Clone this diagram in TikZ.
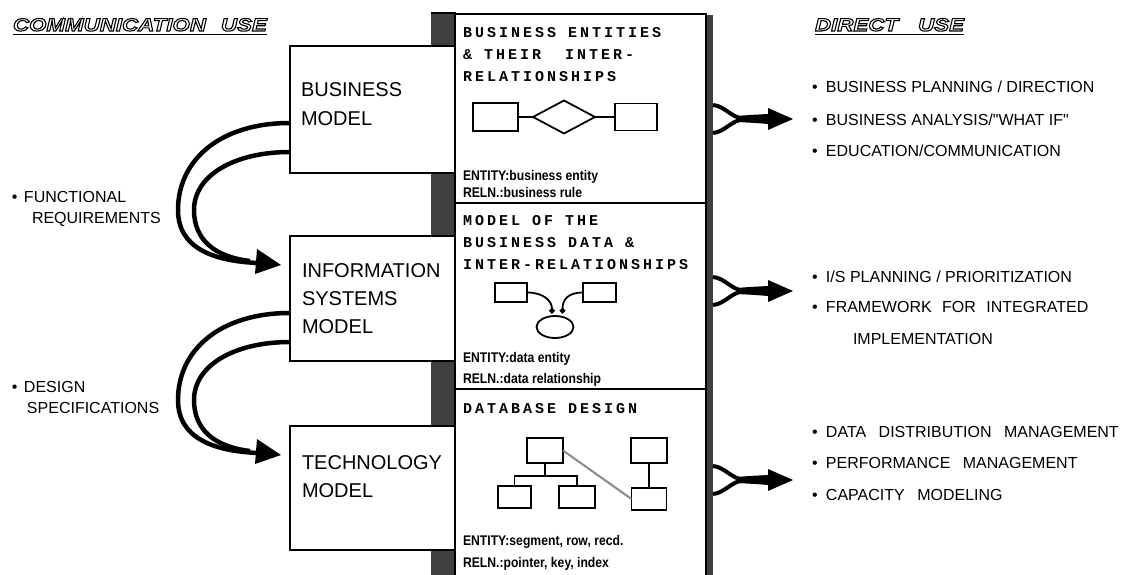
\documentclass[tikz,border=0pt]{standalone}
\usepackage{fontspec}
\setmainfont{Liberation Sans}[Ligatures=TeXOff]
\newfontfamily\monofont[LetterSpace=20]{Liberation Mono}
\newfontfamily\keyfont[FakeStretch=0.87]{Liberation Sans}
\newfontfamily\headfont[FakeStretch=1.24]{Liberation Sans}
\usetikzlibrary{calc,shapes.geometric,arrows.meta}
\definecolor{bargray}{HTML}{404040}
\definecolor{linkgray}{HTML}{8A8A8A}
% hollow lettering: glyphs stroked, not filled
\newcommand\hollow[1]{\special{pdf:literal direct 1 Tr 1.1 w}#1\special{pdf:literal direct 0 Tr}}
% one full character cell of the spaced typewriter captions
\newcommand\msp{\hspace{12pt}}

\tikzset{
  every node/.style={inner sep=0pt, outer sep=0pt},
  box/.style={draw, line width=2pt, fill=white, anchor=north west},
  modeltext/.style={anchor=base west, font=\fontsize{20}{24}\selectfont},
  listtext/.style={anchor=base west, font=\fontsize{16}{19}\selectfont},
  monotext/.style={anchor=base west, font=\monofont\bfseries\fontsize{15}{17}\selectfont},
  keytext/.style={anchor=base west, font=\keyfont\bfseries\fontsize{14}{17}\selectfont},
  headtext/.style={anchor=base west, font=\headfont\bfseries\itshape\fontsize{18}{21}\selectfont},
  ent/.style={draw, line width=1.8pt, fill=white, minimum height=#1},
  ent/.default=22pt,
  link/.style={line width=1.8pt},
  flow/.style={line width=4.5pt},
  prong/.style={line width=4pt},
}

\begin{document}
\begin{tikzpicture}[x=1pt,y=-1pt]
\useasboundingbox (0,0) rectangle (1129,575);

% dark spine behind the three models and its shadow on the right
\fill[bargray] (431,13) rectangle (456,580);
\draw[line width=2pt] (431,13) -- (456,13);
\fill[bargray] (705,15) rectangle (713,580);

% the three description panels
\node[box, minimum width=251pt, minimum height=189pt] (p1) at (455,14) {};
\node[box, minimum width=251pt, minimum height=186pt] (p2) at (455,203) {};
\node[box, minimum width=251pt, minimum height=200pt] (p3) at (455,389) {};

% the three models
\node[box, minimum width=165pt, minimum height=127pt] (bm) at (290,46) {};
\node[box, minimum width=165pt, minimum height=125pt] (ism) at (290,236) {};
\node[box, minimum width=165pt, minimum height=124pt] (tm) at (290,426) {};

\node[modeltext] (bm1) at (301,97) {BUSINESS};
\node[modeltext] (bm2) at (301,125) {MODEL};
\node[modeltext] (ism1) at (302,277) {INFORMATION};
\node[modeltext] (ism2) at (302,305) {SYSTEMS};
\node[modeltext] (ism3) at (302,333) {MODEL};
\node[modeltext] (tm1) at (302,469) {TECHNOLOGY};
\node[modeltext] (tm2) at (302,497) {MODEL};

% headings
\node[headtext] (hcomm) at (13,31) {\hollow{COMMUNICATION\hspace{15pt}USE}};
\draw[line width=1.8pt] ($(hcomm.base west)+(0,3.5)$) -- ($(hcomm.base east)+(0,3.5)$);
\node[headtext] (hdir) at (815,31) {\hollow{DIRECT\hspace{20pt}USE}};
\draw[line width=1.8pt] ($(hdir.base west)+(0,3.5)$) -- ($(hdir.base east)+(0,3.5)$);

% panel 1: business entities
\node[monotext] (t1a) at (463,38) {BUSINESS\msp ENTITIES};
\node[monotext] (t1b) at (463,60) {\&\msp THEIR\msp\msp INTER-};
\node[monotext] (t1c) at (463,82) {RELATIONSHIPS};
\node[ent=28pt, minimum width=45pt] (e1) at (495.5,117) {};
\node[draw, line width=1.8pt, fill=white, diamond, minimum width=62pt, minimum height=33pt] (r1) at (564,117) {};
\node[ent=27pt, minimum width=42pt] (e2) at (636,117) {};
\draw[link] (e1) -- (r1);
\draw[link] (r1) -- (e2);
\node[keytext] (k1a) at (463,180) {ENTITY:business entity};
\node[keytext] (k1b) at (463,197) {RELN.:business rule};

% panel 2: business data
\node[monotext] (t2a) at (463,225) {MODEL\msp OF\msp THE};
\node[monotext] (t2b) at (463,247) {BUSINESS\msp DATA\msp\&};
\node[monotext] (t2c) at (463,269) {INTER-RELATIONSHIPS};
\node[ent=19pt, minimum width=32pt] (e3) at (511,292.5) {};
\node[ent=19pt, minimum width=33pt] (e4) at (599.5,292.5) {};
\node[draw, line width=1.8pt, ellipse, minimum width=37pt, minimum height=22pt] (r2) at (555,327) {};
\coordinate (d1) at (552,313.5);
\coordinate (d2) at (562.5,313.5);
\draw[link, -{Circle[length=5.5pt]}] (e3.east) .. controls +(16,0) and +(0,-13) .. (d1);
\draw[link, -{Circle[length=5.5pt]}] (e4.west) .. controls +(-16,0) and +(0,-13) .. (d2);
\node[keytext] (k2a) at (463,362) {ENTITY:data entity};
\node[keytext] (k2b) at (463,383) {RELN.:data relationship};

% panel 3: database design
\node[monotext] (t3a) at (463,413) {DATABASE\msp DESIGN};
\node[ent=25pt, minimum width=36pt] (s0) at (545,450.5) {};
\node[ent=22pt, minimum width=33pt] (s1) at (514.5,497) {};
\node[ent=22pt, minimum width=36pt] (s2) at (577,497) {};
\node[ent=25pt, minimum width=36pt] (s3) at (649,450.5) {};
\node[ent=22pt, minimum width=35pt] (s4) at (649,499) {};
\draw[link] (s0.south) -- ++(0,13) -| (s1.north);
\draw[link] (s0.south) -- ++(0,13) -| (s2.north);
\draw[link] (s3) -- (s4);
\draw[line width=2pt, linkgray] (s0.east) -- (s4.west);
\node[keytext] (k3a) at (463,545) {ENTITY:segment, row, recd.};
\node[keytext] (k3b) at (463,567) {RELN.:pointer, key, index};

% communication use: requirements flowing down the models
\node[listtext] (f1) at (12,202) {\makebox[12pt][l]{•}FUNCTIONAL};
\node[listtext] (f2) at (32,223) {REQUIREMENTS};
\node[listtext] (g1) at (12,392) {\makebox[12pt][l]{•}DESIGN};
\node[listtext] (g2) at (27,413) {SPECIFICATIONS};

\foreach \u/\l in {bm/ism, ism/tm}{
  \draw[flow] ($(\u.north west)+(0,77)$) .. controls +(-70,0) and +(0,-50) ..
    ($(\u.north west)+(-112,164)$) .. controls +(0,38) and +(-45,-2) ..
    ($(\l.north west)+(-32,27)$);
  \draw[flow] ($(\u.north west)+(0,106)$) .. controls +(-55,0) and +(0,-35) ..
    ($(\u.north west)+(-96,164)$) .. controls +(0,30) and +(-35,-4) ..
    ($(\l.north west)+(-40,25)$);
  \fill ($(\l.north west)+(-33,13)$) -- ($(\l.north west)+(-9,29)$)
    -- ($(\l.north west)+(-35,38)$) -- cycle;
}

% direct use lists
\node[listtext] (a1) at (812,93) {\makebox[14pt][l]{•}BUSINESS PLANNING / DIRECTION};
\node[listtext] (a2) at (812,125) {\makebox[14pt][l]{•}BUSINESS ANALYSIS/"WHAT IF"};
\node[listtext] (a3) at (812,157) {\makebox[14pt][l]{•}EDUCATION/COMMUNICATION};
\node[listtext] (b1) at (812,282) {\makebox[14pt][l]{•}I/S PLANNING / PRIORITIZATION};
\node[listtext] (b2) at (812,312) {\makebox[14pt][l]{•}FRAMEWORK\hspace{6pt} FOR\hspace{6pt} INTEGRATED};
\node[listtext] (b3) at (853,344) {IMPLEMENTATION};
\node[listtext] (c1) at (812,437) {\makebox[14pt][l]{•}DATA\hspace{8pt} DISTRIBUTION\hspace{8pt} MANAGEMENT};
\node[listtext] (c2) at (812,468) {\makebox[14pt][l]{•}PERFORMANCE\hspace{8pt} MANAGEMENT};
\node[listtext] (c3) at (812,500) {\makebox[14pt][l]{•}CAPACITY\hspace{8pt} MODELING};

% merging arrows from the panels to the lists
\coordinate (m1) at (713,119);
\coordinate (m2) at (713,291);
\coordinate (m3) at (713,480);
\foreach \m in {m1,m2,m3}{
  \draw[prong] ($(\m)+(0,-14)$) .. controls +(12,1) and +(-14,-1) .. ($(\m)+(32,0)$);
  \draw[prong] ($(\m)+(0,14)$) .. controls +(12,-1) and +(-14,1) .. ($(\m)+(32,0)$);
  \fill ($(\m)+(24,-3)$) .. controls +(12,-1) .. ($(\m)+(55,-5)$) -- ($(\m)+(55,-11)$)
    -- ($(\m)+(80,0)$) -- ($(\m)+(55,11)$) -- ($(\m)+(55,5)$)
    .. controls +(-12,-1) .. ($(\m)+(24,3)$) -- cycle;
}
\end{tikzpicture}
\end{document}
